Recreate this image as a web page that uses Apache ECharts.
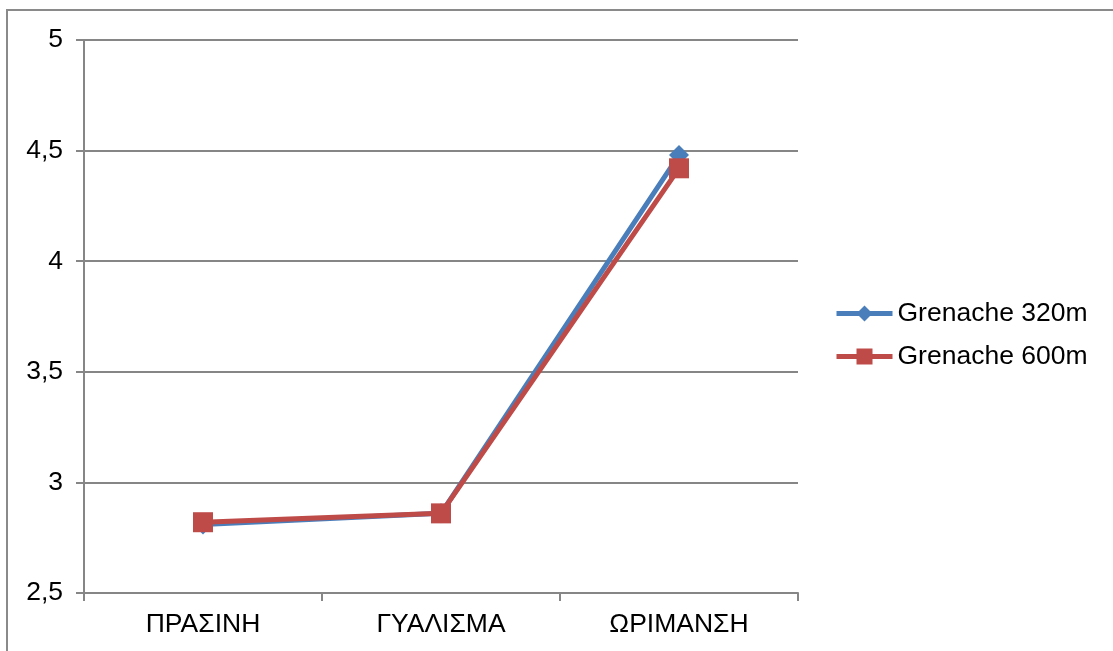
<!DOCTYPE html>
<html>
<head>
<meta charset="utf-8">
<script src="https://cdn.jsdelivr.net/npm/echarts@6/dist/echarts.min.js"></script>
<style>
  html, body { margin: 0; padding: 0; background: #fff; }
  #chart { width: 1113px; height: 651px; }
</style>
</head>
<body>
<div id="chart"></div>
<script>
// Ripening stages on the category axis
const categories = ['ΠΡΑΣΙΝΗ', 'ΓΥΑΛΙΣΜΑ', 'ΩΡΙΜΑΝΣΗ'];
// Series values per stage
const grenache320 = [2.81, 2.86, 4.48];
const grenache600 = [2.82, 2.86, 4.42];
const seriesNames = ['Grenache 320m', 'Grenache 600m'];

const FONT = '"Liberation Sans", Arial, sans-serif';
const GRID_COLOR = '#868686';
const FS = 26.5;

const chart = echarts.init(document.getElementById('chart'), null, { renderer: 'canvas' });

chart.setOption({
  backgroundColor: '#ffffff',
  animation: false,
  graphic: [{
    type: 'polyline',
    shape: { points: [[7, 660], [7, 10], [1120, 10]] },
    style: { stroke: '#8a8a8a', lineWidth: 2, fill: null }
  }],
  grid: { left: 84, right: 315, top: 40, bottom: 58, containLabel: false },
  legend: {
    orient: 'vertical',
    left: 829,
    top: 295,
    padding: 5,
    itemWidth: 56,
    itemHeight: 20,
    itemGap: 16,
    lineStyle: { width: 5 },
    textStyle: { fontFamily: FONT, fontSize: FS, color: '#000' },
    data: seriesNames
  },
  xAxis: {
    type: 'category',
    data: categories,
    boundaryGap: true,
    axisLine: { lineStyle: { color: GRID_COLOR, width: 2 } },
    axisTick: { show: true, length: 8, lineStyle: { color: GRID_COLOR, width: 2 } },
    axisLabel: { fontFamily: FONT, fontSize: FS, color: '#000', margin: 18 },
    splitLine: { show: false }
  },
  yAxis: {
    type: 'value',
    min: 2.5,
    max: 5,
    interval: 0.5,
    axisLine: { show: true, lineStyle: { color: GRID_COLOR, width: 2 } },
    axisTick: { show: true, length: 8, lineStyle: { color: GRID_COLOR, width: 2 } },
    axisLabel: {
      fontFamily: FONT, fontSize: FS, color: '#000', margin: 21,
      formatter: v => String(v).replace('.', ',')
    },
    splitLine: { show: true, lineStyle: { color: GRID_COLOR, width: 2 } }
  },
  series: [
    {
      name: seriesNames[0],
      type: 'line',
      data: grenache320,
      symbol: 'diamond',
      symbolSize: 20,
      itemStyle: { color: '#4a7ebb' },
      lineStyle: { color: '#4a7ebb', width: 5 }
    },
    {
      name: seriesNames[1],
      type: 'line',
      data: grenache600,
      symbol: 'rect',
      symbolSize: 20,
      itemStyle: { color: '#be4b48' },
      lineStyle: { color: '#be4b48', width: 5 }
    }
  ]
});
</script>
</body>
</html>
